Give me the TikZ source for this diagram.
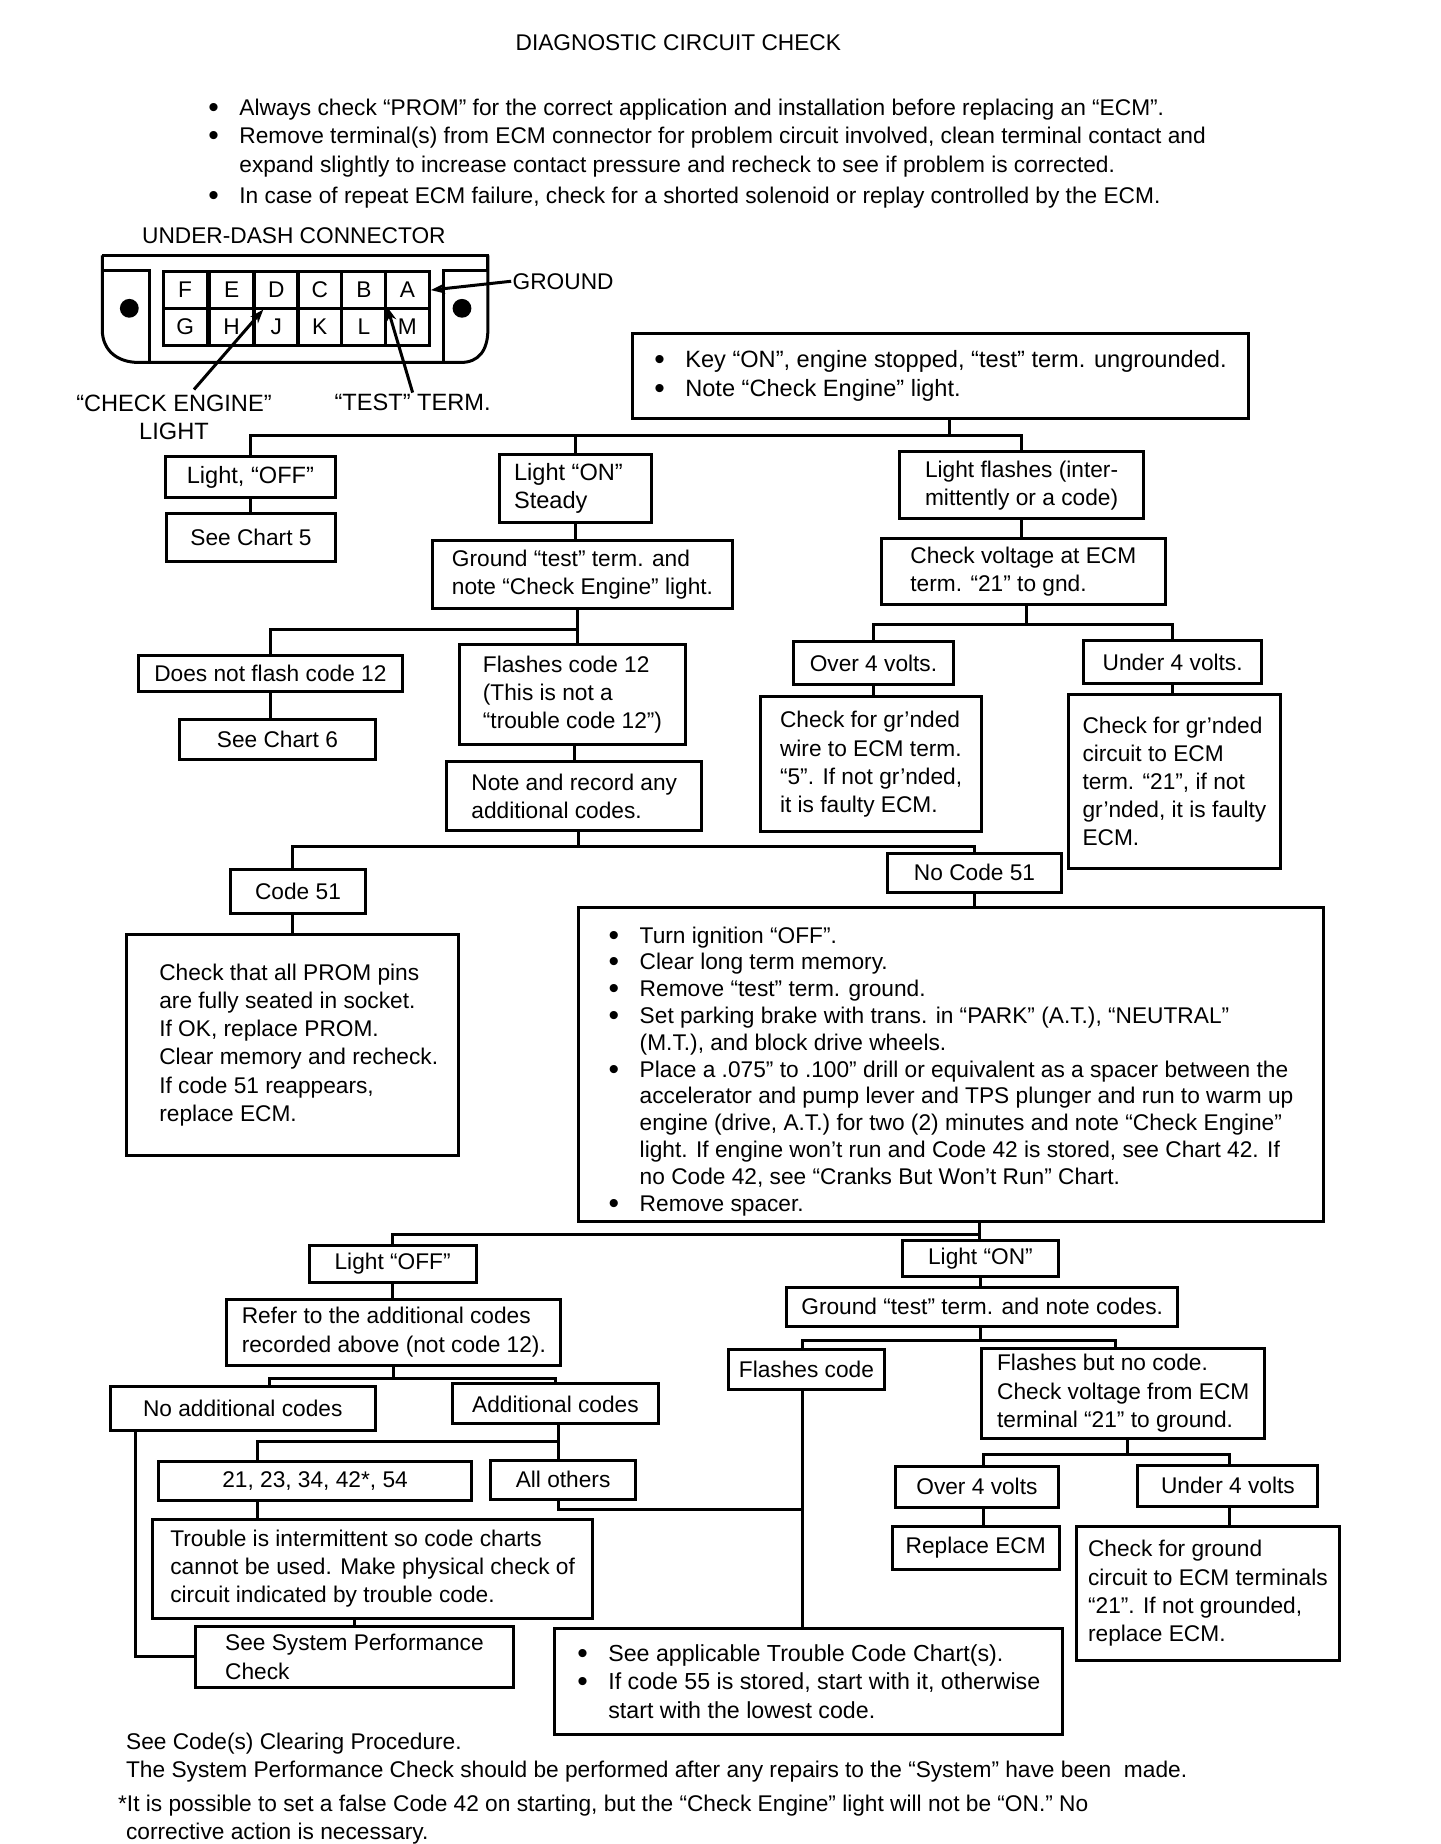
\documentclass[tikz,border=0pt]{standalone}
\usepackage{fontspec}
\setmainfont{Liberation Sans}
\usepackage{tikz}
\usetikzlibrary{arrows.meta}
\usetikzlibrary{calc}

\newcommand{\chartfont}{\fontsize{11.35}{14.1}\selectfont}
\newcommand{\widefont}{\fontsize{11.8}{14.1}\selectfont}
\newcommand{\bul}{\makebox[15.5pt][l]{\raisebox{-1pt}{\fontsize{15}{14}\selectfont\textbullet}}}
\newcommand{\ind}{\hspace*{15.5pt}}

\begin{document}
\begin{tikzpicture}[x=0.5878pt, y=-0.5884pt, line width=1.5pt, every node/.style={font=\chartfont},
    main/.style 2 args = {draw, align=left, inner sep=0pt, minimum width=#1*0.5878pt, minimum height=#2*0.5884pt},
    txt/.style = {align=left, inner sep=0pt},
    cell/.style = {draw, inner sep=0pt, minimum width=22pt, minimum height=18.5pt},
    tip/.style = {-{Stealth[length=7pt,width=5pt]}}]

    \fill[white, use as bounding box] (0,0) rectangle (1225,1567);

    % header
    \node [txt] (title) at (577,36) {DIAGNOSTIC CIRCUIT CHECK};
    \node [txt, anchor=north west] (notes) at (176,83) {\bul Always check “PROM” for the correct application and installation before replacing an “ECM”.\\
        \bul Remove terminal(s) from ECM connector for problem circuit involved, clean terminal contact and\\
        \ind expand slightly to increase contact pressure and recheck to see if problem is corrected.\\[1.5pt]
        \bul In case of repeat ECM failure, check for a shorted solenoid or replay controlled by the ECM.};

    % connector sketch
    \node [txt] (dashlabel) at (250,200) {UNDER-DASH CONNECTOR};
    \draw (127,308) -- (127,230) -- (87,230) (87,217) -- (415,217) -- (415,230) -- (377,230) -- (377,308);
    \draw (87,217) -- (87,280) .. controls (87,298) and (100,308) .. (118,308) -- (392,308) .. controls (407,308) and (415,298) .. (415,280) -- (415,217);
    \fill (110,262) circle (8);
    \fill (393,262) circle (8);
    \node [cell] (F) at (157.5,246.5) {F};
    \node [cell] (E) at (197,246.5) {E};
    \node [cell] (D) at (235,246.5) {D};
    \node [cell] (C) at (272,246.5) {C};
    \node [cell] (B) at (309.5,246.5) {B};
    \node [cell] (A) at (346.5,246.5) {A};
    \node [cell] (G) at (157.5,278) {G};
    \node [cell] (H) at (197,278) {H};
    \node [cell] (J) at (235,278) {J};
    \node [cell] (K) at (272,278) {K};
    \node [cell] (L) at (309.5,278) {L};
    \node [cell] (M) at (346.5,278) {M};
    \node [txt] (groundlabel) at (479,239) {GROUND};
    \node [txt, align=center, font=\widefont] (enginelabel) at (148,355) {“CHECK ENGINE”\\LIGHT};
    \node [txt, font=\widefont] (testlabel) at (351,342) {“TEST” TERM.};
    \coordinate (enginefoot) at (165,331);
    \coordinate (enginetip) at (224,263);
    \draw[tip] (groundlabel.west) -- (A.east);
    \draw[tip] (enginefoot) -- (enginetip);
    \draw[tip] (testlabel.north) -- (L.north east);

    % first checks
    \node [main={524}{73}, font=\widefont] (key) at (800,319.5) {\bul Key “ON”, engine stopped, “test” term. ungrounded.\\\bul Note “Check Engine” light.};
    \node [main={144}{35}, font=\widefont] (lightoff) at (213,405.5) {Light, “OFF”};
    \node [main={143}{41}] (chartfive) at (213.5,456.5) {See Chart 5};
    \node [main={129}{58}, font=\widefont] (lighton) at (489.5,415) {Light “ON”\hspace*{7pt}\\Steady};
    \node [main={208}{57}] (flashes) at (869,412.5) {Light flashes (inter-\\mittently or a code)};
    \node [main={255}{58}] (groundtest) at (495.5,488) {Ground “test” term. and\\note “Check Engine” light.};
    \node [main={241}{56}] (checkvolt) at (870.5,486) {Check voltage at ECM\\term. “21” to gnd.};
    \node [main={224}{31}] (noflash) at (230,572.5) {Does not flash code 12};
    \node [main={166}{34}] (chartsix) at (236,628) {See Chart 6};
    \node [main={192}{85}] (flashtwelve) at (487,590.5) {Flashes code 12\\(This is not a\\“trouble code 12”)};
    \node [main={217}{59}] (record) at (488.5,676.5) {Note and record any\\additional codes.};
    \node [main={136}{37}] (overfour) at (743,563.5) {Over 4 volts.};
    \node [main={151}{37}] (underfour) at (997.5,562.5) {Under 4 volts.};
    \node [main={188}{115}] (wirefive) at (741,649.5) {Check for gr’nded\\wire to ECM term.\hspace*{7pt}\\“5”. If not gr’nded,\\it is faulty ECM.};
    \node [main={180}{148}] (circuit) at (999,664) {Check for gr’nded\\circuit to ECM\\term. “21”, if not\\gr’nded, it is faulty\\ECM.};
    \node [main={115}{37}] (codefifty) at (253.5,757.5) {Code 51};
    \node [main={148}{33}] (nocode) at (829,741.5) {No Code 51};
    \node [main={282}{188}] (prom) at (249,888) {\hspace*{6pt}Check that all PROM pins\\\hspace*{6pt}are fully seated in socket.\\\hspace*{6pt}If OK, replace PROM.\\\hspace*{6pt}Clear memory and recheck.\\\hspace*{6pt}If code 51 reappears,\\\hspace*{6pt}replace ECM.};
    \node [main={634}{267}, font=\fontsize{11.35}{13.4}\selectfont] (steps) at (809,904.5) {\rule{0pt}{15pt}\bul Turn ignition “OFF”.\\\bul Clear long term memory.\\\bul Remove “test” term. ground.\\\bul Set parking brake with trans. in “PARK” (A.T.), “NEUTRAL”\\\ind (M.T.), and block drive wheels.\\\bul Place a .075” to .100” drill or equivalent as a spacer between the\\\ind accelerator and pump lever and TPS plunger and run to warm up\\\ind engine (drive, A.T.) for two (2) minutes and note “Check Engine”\\\ind light. If engine won’t run and Code 42 is stored, see Chart 42. If\\\ind no Code 42, see “Cranks But Won’t Run” Chart.\\\bul Remove spacer.};

    % second checks
    \node [main={142}{32}] (lightofftwo) at (334,1074) {Light “OFF”};
    \node [main={284}{56}] (refer) at (335,1132) {Refer to the additional codes\\recorded above (not code 12).};
    \node [main={225}{38}] (noadd) at (206.5,1197) {No additional codes};
    \node [main={175}{34}] (addit) at (472.5,1193) {Additional codes};
    \node [main={266}{33}] (codes) at (268,1258.5) {21, 23, 34, 42*, 54};
    \node [main={124}{33}] (others) at (479,1257.5) {All others};
    \node [main={374}{84}] (trouble) at (317,1333) {Trouble is intermittent so code charts\\cannot be used. Make physical check of\\circuit indicated by trouble code.};
    \node [main={271}{52}] (sysperf) at (301.5,1408) {See System Performance\\Check};
    \node [main={432}{90}, font=\fontsize{11.6}{14.1}\selectfont] (charts) at (688,1429) {\bul See applicable Trouble Code Chart(s).\\\bul If code 55 is stored, start with it, otherwise\\\ind start with the lowest code.};
    \node [main={132}{31}] (lightontwo) at (834,1069.5) {Light “ON”};
    \node [main={333}{33}] (groundcodes) at (835.5,1110.5) {Ground “test” term. and note codes.};
    \node [main={132}{34}] (flashcode) at (686,1164) {Flashes code};
    \node [main={241}{76}] (flashnocode) at (955.5,1184) {Flashes but no code.\\Check voltage from ECM\\terminal “21” to ground.};
    \node [main={138}{35}] (overtwo) at (831,1263.5) {Over 4 volts};
    \node [main={153}{35}] (undertwo) at (1044.5,1262.5) {Under 4 volts};
    \node [main={142}{37}] (replace) at (830,1315.5) {Replace ECM};
    \node [main={223}{114}] (groundcheck) at (1027.5,1354) {Check for ground\\circuit to ECM terminals\\“21”. If not grounded,\\replace ECM.};

    % footnotes
    \node [txt, anchor=north west] (footer) at (106,1471) {See Code(s) Clearing Procedure.\\The System Performance Check should be performed after any repairs to the “System” have been\ \ made.\\[3pt]\hspace*{-4pt}*It is possible to set a false Code 42 on starting, but the “Check Engine” light will not be “ON.” No\\corrective action is necessary.};

    % bus points
    \coordinate (keybus) at (808,370);
    \coordinate (testbus) at (491,535);
    \coordinate (recordbus) at (492,719);
    \coordinate (voltbus) at (873,531);
    \coordinate (stepsbus) at (833,1049);
    \coordinate (referbus) at (335,1171);
    \coordinate (noaddstem) at (229,1171);
    \coordinate (additbus) at (475,1225);
    \coordinate (codesbus) at (219,1225);
    \coordinate (othersbus) at (475,1283);
    \coordinate (chartstem) at (683,1283);
    \coordinate (groundbus) at (834,1139);
    \coordinate (flashbus) at (949,1139);
    \coordinate (flashnobus) at (959,1236);
    \coordinate (overbus) at (837,1236);
    \coordinate (underbus) at (1046,1236);
    \coordinate (noaddfoot) at (115,1408);

    \draw (key.south -| keybus) -- (keybus);
    \draw (lightoff.north) |- (keybus) -| (flashes.north);
    \draw (lighton.north) -- (lighton.north |- keybus);
    \draw (lightoff.south) -- (chartfive.north -| lightoff.south);
    \draw (lighton.south) -- (groundtest.north -| lighton.south);
    \draw (flashes.south) -- (checkvolt.north -| flashes.south);
    \draw (groundtest.south -| testbus) -- (flashtwelve.north -| testbus);
    \draw (noflash.north) |- (testbus);
    \draw (noflash.south) -- (chartsix.north -| noflash.south);
    \draw (flashtwelve.south -| record.south) -- (record.north);
    \draw (record.south -| recordbus) -- (recordbus);
    \draw (codefifty.north -| prom.north) |- (recordbus) -| (nocode.north);
    \draw (codefifty.south -| prom.north) -- (prom.north);
    \draw (nocode.south) -- (steps.north -| nocode.south);
    \draw (checkvolt.south -| voltbus) -- (voltbus);
    \draw (overfour.north) |- (voltbus) -| (underfour.north);
    \draw (overfour.south) -- (wirefive.north -| overfour.south);
    \draw (underfour.south) -- (circuit.north -| underfour.south);

    \draw (steps.south -| stepsbus) -- (lightontwo.north -| stepsbus);
    \draw (lightofftwo.north) |- (stepsbus);
    \draw (lightofftwo.south) -- (refer.north -| lightofftwo.south);
    \draw (refer.south) -- (referbus);
    \draw (noadd.north -| noaddstem) -- (noaddstem) -| (addit.north);
    \draw (addit.south -| additbus) -- (others.north -| additbus);
    \draw (codes.north -| codesbus) |- (additbus);
    \draw (codes.south -| codesbus) -- (trouble.north -| codesbus);
    \draw (trouble.south -| sysperf.north) -- (sysperf.north);
    \draw (noadd.south -| noaddfoot) -- (noaddfoot) -- (sysperf.west);
    \draw (others.south -| othersbus) -- (othersbus) -- (chartstem);
    \draw (flashcode.south -| chartstem) -- (charts.north -| chartstem);
    \draw (lightontwo.south) -- (groundcodes.north -| lightontwo.south);
    \draw (groundcodes.south -| groundbus) -- (groundbus);
    \draw (flashcode.north -| chartstem) |- (flashbus) -- (flashnocode.north -| flashbus);
    \draw (flashnocode.south -| flashnobus) -- (flashnobus);
    \draw (overtwo.north -| overbus) |- (underbus) -- (undertwo.north -| underbus);
    \draw (overtwo.south -| overbus) -- (replace.north -| overbus);
    \draw (undertwo.south -| underbus) -- (groundcheck.north -| underbus);

\end{tikzpicture}
\end{document}
